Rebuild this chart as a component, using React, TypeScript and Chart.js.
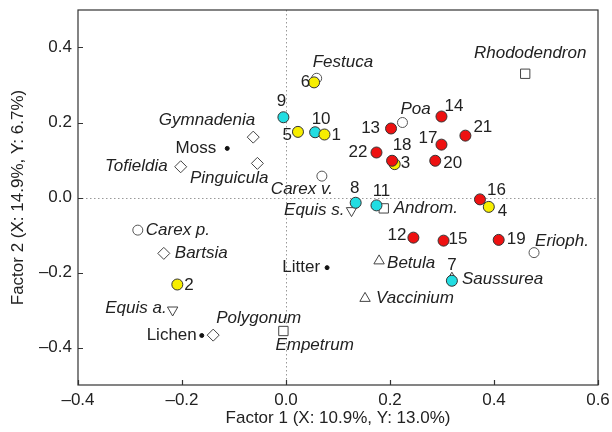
import { useEffect, useRef } from "react";
import { Chart, registerables } from "chart.js";

Chart.register(...registerables);

// ---------- data ----------
const xTicks = [-0.4, -0.2, 0, 0.2, 0.4, 0.6];
const yTicks = [-0.4, -0.2, 0, 0.2, 0.4];

// samples (listed in drawing order)
const sampleIds = ["7", "8", "9", "10", "11", "3", "12", "13", "14", "15", "16", "17", "18", "19", "20", "21", "22", "1", "2", "4", "5", "6"];
const sampleX = [0.319, 0.134, -0.005, 0.056, 0.174, 0.209, 0.245, 0.202, 0.299, 0.303, 0.373, 0.299, 0.204, 0.409, 0.287, 0.345, 0.174, 0.074, -0.209, 0.39, 0.023, 0.054];
const sampleY = [-0.222, -0.014, 0.214, 0.174, -0.021, 0.089, -0.107, 0.184, 0.216, -0.115, -0.005, 0.141, 0.098, -0.113, 0.098, 0.165, 0.12, 0.168, -0.232, -0.025, 0.175, 0.307];
const sampleGroup = ["C", "C", "C", "C", "C", "Y", "R", "R", "R", "R", "R", "R", "R", "R", "R", "R", "R", "Y", "Y", "Y", "Y", "Y"];

// species / variables
const speciesNames = ["Festuca", "Poa", "Carex v.", "Erioph.", "Carex p.", "Gymnadenia", "Tofieldia", "Pinguicula", "Bartsia", "Polygonum", "Rhododendron", "Androm.", "Empetrum", "Betula", "Vaccinium", "Saussurea", "Equis s.", "Equis a.", "Moss", "Litter", "Lichen"];
const speciesX = [0.059, 0.224, 0.069, 0.477, -0.285, -0.063, -0.2025, -0.055, -0.235, -0.14, 0.46, 0.188, -0.005, 0.179, 0.152, 0.319, 0.126, -0.218, -0.113, 0.079, -0.162];
const speciesY = [0.318, 0.2, 0.057, -0.147, -0.087, 0.161, 0.082, 0.091, -0.149, -0.367, 0.33, -0.029, -0.356, -0.169, -0.269, -0.215, -0.035, -0.3, 0.131, -0.187, -0.368];
const speciesKind = ["circle", "circle", "circle", "circle", "circle", "diamond", "diamond", "diamond", "diamond", "diamond", "square", "square", "square", "triUp", "triUp", "triUp", "triDown", "triDown", "dot", "dot", "dot"];

// ---------- styles ----------
const FONT = "'Liberation Sans', Arial, Helvetica, sans-serif";
const TEXT = "#222";
const groupColor: Record<string, string> = { R: "#ee1111", Y: "#f7ee00", C: "#22dde2" };
const kindStyle: Record<string, any> = {
  circle: { pointStyle: "circle", radius: 5, rotation: 0, fill: "#ffffff", stroke: "#555" },
  diamond: { pointStyle: "rectRot", radius: 6, rotation: 0, fill: "#ffffff", stroke: "#444" },
  square: { pointStyle: "rect", radius: 6.6, rotation: 0, fill: "#ffffff", stroke: "#444" },
  triUp: { pointStyle: "triangle", radius: 6, rotation: 0, fill: "#ffffff", stroke: "#444" },
  triDown: { pointStyle: "triangle", radius: 6, rotation: 180, fill: "#ffffff", stroke: "#444" },
  dot: { pointStyle: "circle", radius: 2, rotation: 0, fill: "#111", stroke: "#111" },
};
const uprightSpecies = ["Moss", "Litter", "Lichen"];

// label placement: [dx, dy, align]
const sampleLabelPos: Record<string, [number, number, CanvasTextAlign]> = {
  "1": [7, 1, "left"], "2": [7, 1, "left"], "3": [6, -1, "left"], "4": [9, 4, "left"],
  "5": [-6, 3, "right"], "6": [-4, 0, "right"], "7": [0, -15, "center"], "8": [-1, -14, "center"],
  "9": [-2, -16, "center"], "10": [6, -13, "center"], "11": [5, -14, "center"], "12": [-7, -2, "right"],
  "13": [-11, 0, "right"], "14": [3, -10, "left"], "15": [5, -1, "left"], "16": [7, -9, "left"],
  "17": [-4, -6, "right"], "18": [10, -15, "center"], "19": [8, -1, "left"], "20": [8, 3, "left"],
  "21": [8, -8, "left"], "22": [-9, 0, "right"],
};
const speciesLabelPos: Record<string, [number, number, CanvasTextAlign]> = {
  Festuca: [-4, -16, "left"], Rhododendron: [5, -20, "center"], Poa: [-2, -13, "left"],
  Gymnadenia: [2, -17, "right"], Moss: [-11, 0, "right"], Tofieldia: [-13, 0, "right"],
  Pinguicula: [11, 15, "right"], "Carex v.": [11, 13, "right"], "Equis s.": [-7, 0, "right"],
  "Androm.": [10, 0, "left"], "Erioph.": [1, -11, "left"], Betula: [8, 2, "left"],
  Saussurea: [10, 1, "left"], Vaccinium: [11, 0, "left"], Litter: [-7, 0, "right"],
  "Carex p.": [8, 0, "left"], Bartsia: [11, 0, "left"], "Equis a.": [-6, -2, "right"],
  Lichen: [-5, 0, "right"], Polygonum: [3, -17, "left"], Empetrum: [-8, 14, "left"],
};

const fmt = (v: number) => {
  const n = Math.round(v * 10) / 10;
  return (n < 0 ? "\u2013" : "") + Math.abs(n).toFixed(1);
};

const framePlugin = {
  id: "frameTicks",
  beforeDatasetsDraw(chart: any) {
    const { ctx, chartArea: a, scales } = chart;
    ctx.save();
    ctx.strokeStyle = "#999";
    ctx.lineWidth = 1;
    ctx.setLineDash([1.5, 2.5]);
    const x0 = Math.round(scales.x.getPixelForValue(0)) + 0.5;
    const y0 = Math.round(scales.y.getPixelForValue(0)) + 0.5;
    ctx.beginPath();
    ctx.moveTo(x0, a.top);
    ctx.lineTo(x0, a.bottom);
    ctx.moveTo(a.left, y0);
    ctx.lineTo(a.right, y0);
    ctx.stroke();
    ctx.restore();
  },
  afterDraw(chart: any) {
    const { ctx, chartArea: a, scales } = chart;
    ctx.save();
    ctx.strokeStyle = "#333";
    ctx.lineWidth = 1.2;
    ctx.strokeRect(a.left, a.top, a.right - a.left, a.bottom - a.top);
    ctx.beginPath();
    for (const v of xTicks) {
      const px = Math.round(scales.x.getPixelForValue(v)) + 0.5;
      ctx.moveTo(px, a.bottom);
      ctx.lineTo(px, a.bottom - 5);
    }
    for (const v of yTicks) {
      const py = Math.round(scales.y.getPixelForValue(v)) + 0.5;
      ctx.moveTo(a.left, py);
      ctx.lineTo(a.left + 5, py);
    }
    ctx.stroke();
    ctx.restore();
  },
};

const labelPlugin = {
  id: "pointLabels",
  afterDatasetsDraw(chart: any) {
    const { ctx, scales } = chart;
    ctx.save();
    ctx.fillStyle = TEXT;
    ctx.textBaseline = "middle";
    sampleIds.forEach((id, i) => {
      const p = sampleLabelPos[id] || [7, 0, "left"];
      const px = scales.x.getPixelForValue(sampleX[i]);
      const py = scales.y.getPixelForValue(sampleY[i]);
      ctx.font = `17px ${FONT}`;
      ctx.textAlign = p[2];
      ctx.fillText(id, px + p[0], py + p[1]);
    });
    speciesNames.forEach((name, i) => {
      const p = speciesLabelPos[name] || [8, 0, "left"];
      const px = scales.x.getPixelForValue(speciesX[i]);
      const py = scales.y.getPixelForValue(speciesY[i]);
      ctx.font = `${uprightSpecies.includes(name) ? "" : "italic "}17px ${FONT}`;
      ctx.textAlign = p[2];
      ctx.fillText(name, px + p[0], py + p[1]);
    });
    ctx.restore();
  },
};

export default function App() {
  const ref = useRef<HTMLCanvasElement>(null);
  useEffect(() => {
    if (!ref.current) return;
    const kinds = ["circle", "diamond", "square", "triUp", "triDown", "dot"];
    const speciesSets = kinds.map((k, ki) => {
      const st = kindStyle[k];
      const idx = speciesKind.map((kk, i) => (kk === k ? i : -1)).filter((i) => i >= 0);
      return {
        label: k,
        data: idx.map((i) => ({ x: speciesX[i], y: speciesY[i] })),
        pointStyle: st.pointStyle,
        pointRadius: st.radius,
        pointRotation: st.rotation,
        pointBackgroundColor: st.fill,
        pointBorderColor: st.stroke,
        pointBorderWidth: 1,
        showLine: false,
        order: 10 + ki,
      };
    });
    const sampleSet = {
      label: "samples",
      data: sampleIds.map((_, i) => ({ x: sampleX[i], y: sampleY[i] })),
      pointStyle: "circle",
      pointRadius: 5.5,
      pointBackgroundColor: sampleGroup.map((g) => groupColor[g]),
      pointBorderColor: "#333",
      pointBorderWidth: 1,
      showLine: false,
      order: 0,
    };
    const chart = new Chart(ref.current, {
      type: "scatter",
      data: { datasets: [sampleSet, ...speciesSets] as any },
      options: {
        animation: false,
        responsive: false,
        maintainAspectRatio: false,
        layout: { padding: { top: 10, right: 14, left: 0, bottom: 0 } },
        plugins: { legend: { display: false }, tooltip: { enabled: false } },
        scales: {
          x: {
            type: "linear",
            min: -0.4,
            max: 0.6,
            afterBuildTicks: (s: any) => {
              s.ticks = xTicks.map((v) => ({ value: v }));
            },
            afterFit: (s: any) => {
              s.height = 47;
              s.paddingLeft = 0;
              s.paddingRight = 0;
            },
            grid: { display: false, drawTicks: false },
            border: { display: false },
            ticks: {
              callback: (v: any) => fmt(Number(v)),
              font: { family: FONT, size: 17 },
              color: TEXT,
              padding: 5,
              maxRotation: 0,
              autoSkip: false,
            },
            title: {
              display: true,
              text: "Factor 1 (X: 10.9%, Y: 13.0%)",
              font: { family: FONT, size: 17, lineHeight: 1.2 },
              color: TEXT,
              padding: { top: 0, bottom: 3 },
            },
          },
          y: {
            type: "linear",
            min: -0.5,
            max: 0.5,
            afterBuildTicks: (s: any) => {
              s.ticks = yTicks.map((v) => ({ value: v }));
            },
            afterFit: (s: any) => {
              s.width = 78;
              s.paddingTop = 0;
              s.paddingBottom = 0;
            },
            grid: { display: false, drawTicks: false },
            border: { display: false },
            ticks: {
              callback: (v: any) => fmt(Number(v)),
              font: { family: FONT, size: 17 },
              color: TEXT,
              padding: 6,
              autoSkip: false,
            },
            title: {
              display: true,
              text: "Factor 2 (X: 14.9%, Y: 6.7%)",
              font: { family: FONT, size: 17, lineHeight: 1.2 },
              color: TEXT,
              padding: { top: 8, bottom: 0 },
            },
          },
        },
      },
      plugins: [framePlugin, labelPlugin],
    });
    return () => chart.destroy();
  }, []);
  return (
    <div style={{ position: "fixed", left: 0, top: 0, width: 612, height: 432, background: "#fff" }}>
      <canvas ref={ref} width={612} height={432} style={{ display: "block", width: 612, height: 432 }} />
    </div>
  );
}
